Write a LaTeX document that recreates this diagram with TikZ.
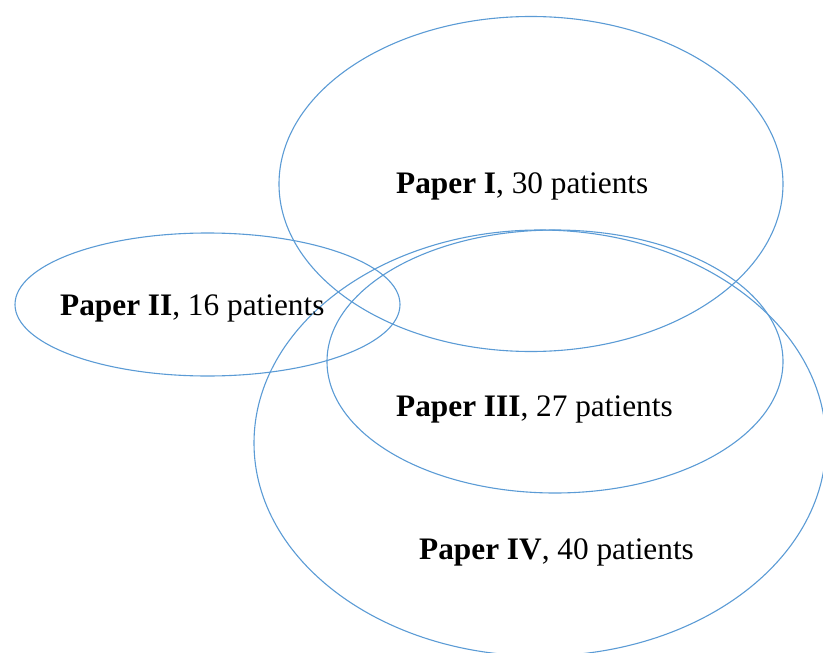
\documentclass[tikz,border=0pt]{standalone}
\usepackage{fontspec}
\setmainfont{Liberation Serif}
\definecolor{venn}{RGB}{91,155,213}
\tikzset{
  vennline/.style={draw=venn, line width=1.1pt},
  label/.style={inner sep=0pt, anchor=base west, font=\fontsize{31.3}{36}\selectfont}
}
\begin{document}
\begin{tikzpicture}[x=1pt,y=-1pt]
\useasboundingbox (0,0) rectangle (823,653);
\clip (0,0) rectangle (823,653);
\coordinate (c1) at (531,184);
\coordinate (c2) at (207.5,304.5);
\coordinate (c3) at (555,361.5);
\coordinate (c4) at (540,443);
\draw[vennline] (c1) ellipse [x radius=252pt, y radius=167.5pt];
\draw[vennline] (c2) ellipse [x radius=192.5pt, y radius=71.5pt];
\draw[vennline] (c3) ellipse [x radius=228pt, y radius=131.5pt];
\draw[vennline] (c4) ellipse [x radius=286pt, y radius=213pt];
\node[label] (p1) at (396,193) {\textbf{Paper I}, 30 patients};
\node[label] (p2) at (60,315) {\textbf{Paper II}, 16 patients};
\node[label] (p3) at (396,416) {\textbf{Paper III}, 27 patients};
\node[label] (p4) at (419,559) {\textbf{Paper IV}, 40 patients};
\end{tikzpicture}
\end{document}
